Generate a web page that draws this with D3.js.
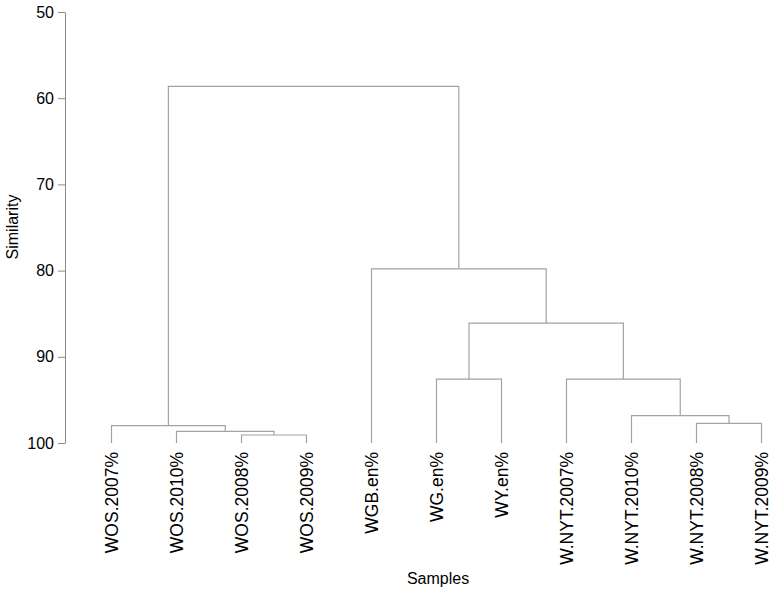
<!DOCTYPE html>
<html>
<head>
<meta charset="utf-8">
<script src="https://cdn.jsdelivr.net/npm/d3@7"></script>
<style>
  html, body { margin: 0; padding: 0; background: #fff; }
  svg { display: block; font-family: "Liberation Sans", Arial, sans-serif; }
</style>
</head>
<body>
<svg id="chart" width="771" height="594"></svg>
<script>
// ---- data ----
const leaves = ["WOS.2007%", "WOS.2010%", "WOS.2008%", "WOS.2009%", "WGB.en%", "WG.en%", "WY.en%",
                "W.NYT.2007%", "W.NYT.2010%", "W.NYT.2008%", "W.NYT.2009%"];
// linkage: leaf indices 0..10, merged clusters numbered 11, 12, ...
const mergeLeft   = [2, 1, 0, 9, 8, 5, 7, 16, 4, 13];
const mergeRight  = [3, 11, 12, 10, 14, 6, 15, 17, 18, 19];
const mergeHeight = [99.07, 98.64, 97.99, 97.72, 96.83, 92.6, 92.6, 86.1, 79.8, 58.62];
const yTicks = [50, 60, 70, 80, 90, 100];

// ---- layout ----
const svg = d3.select("#chart");
const x = d3.scalePoint().domain(leaves).range([111.5, 761.5]);
const y = d3.scaleLinear().domain([50, 100]).range([12, 443]);

// nodes: position & height
const nodeX = leaves.map(l => x(l));
const nodeH = leaves.map(() => 100);
mergeLeft.forEach((a, i) => {
  const b = mergeRight[i];
  nodeX.push((nodeX[a] + nodeX[b]) / 2);
  nodeH.push(mergeHeight[i]);
});

const lineColor = "#a3a3a3";
const g = svg.append("g");
mergeLeft.forEach((a, i) => {
  const b = mergeRight[i];
  const h = mergeHeight[i];
  const path = d3.path();
  path.moveTo(nodeX[a], y(nodeH[a]));
  path.lineTo(nodeX[a], y(h));
  path.lineTo(nodeX[b], y(h));
  path.lineTo(nodeX[b], y(nodeH[b]));
  g.append("path")
    .attr("d", path.toString())
    .attr("fill", "none")
    .attr("stroke", lineColor)
    .attr("stroke-width", 1.2);
});

// y axis
const yAxis = d3.axisLeft(y).tickValues(yTicks).tickSize(7).tickSizeOuter(0).tickPadding(4);
const ax = svg.append("g").attr("transform", "translate(65,0)").call(yAxis);
ax.select(".domain").attr("stroke", "#8a8a8a").attr("stroke-width", 1);
ax.selectAll(".tick line").attr("stroke", "#8a8a8a");
ax.selectAll(".tick text").attr("fill", "#000").style("font-size", "16px")
  .style("font-family", "'Liberation Sans', Arial, sans-serif");

// leaf labels
svg.append("g").selectAll("text").data(leaves).join("text")
  .attr("transform", d => `translate(${x(d) + 6},452) rotate(-90)`)
  .attr("text-anchor", "end")
  .attr("fill", "#000")
  .style("font-size", "17.5px")
  .text(d => d);

// axis titles
svg.append("text")
  .attr("x", 438).attr("y", 584)
  .attr("text-anchor", "middle")
  .attr("fill", "#000")
  .style("font-size", "16px")
  .text("Samples");

svg.append("text")
  .attr("transform", "translate(18,227) rotate(-90)")
  .attr("text-anchor", "middle")
  .attr("fill", "#000")
  .style("font-size", "16px")
  .text("Similarity");
</script>
</body>
</html>
